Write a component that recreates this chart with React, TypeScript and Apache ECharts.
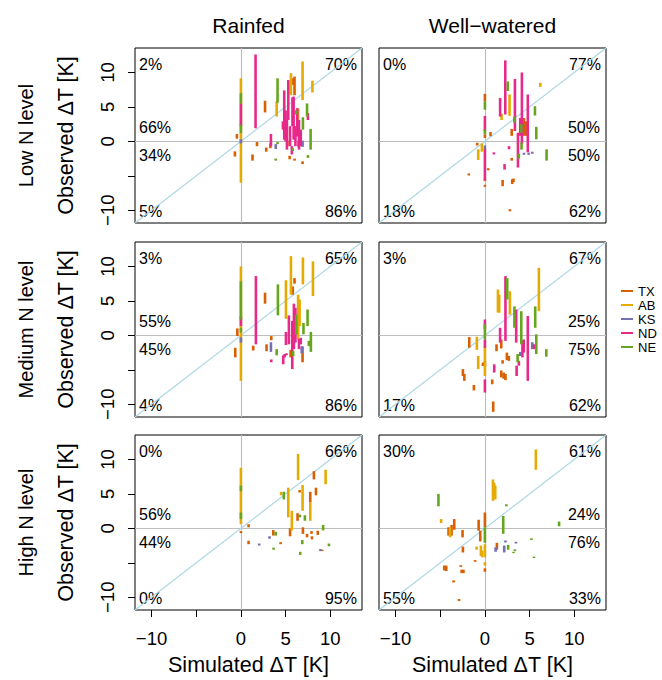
import React, { useEffect, useRef } from 'react';
import * as echarts from 'echarts';

// ---------- data ----------
const states = ['TX', 'AB', 'KS', 'ND', 'NE'];
const stateColors = ['#D95F02', '#E6AB02', '#7570B3', '#E7298A', '#66A61E'];
const tickValues = [-10, -5, 0, 5, 10];
const tickLabelValues = [-10, 0, 5, 10];
const columnTitles = ['Rainfed', 'Well\u2212watered'];
const rowTitles = ['Low N level', 'Medium N level', 'High N level'];
const xTitle = 'Simulated \u0394T [K]';
const yTitle = 'Observed \u0394T [K]';

// each segment: [simulated, observed min, observed max]
const lowRainTX = [[-0.45, 0.4, 1.06], [-0.67, -2.2, -1.45], [2.7, 4.2, 5.9], [1.8, -0.7, -0.1], [1.3, -2.8, -1.9], [2.84, -1.5, -0.9], [3.3, -1.0, -0.3], [5.8, 8.2, 9.15], [6.0, 6.7, 9.4], [6.45, -0.8, 0.1], [5.45, -2.6, -2.1], [6.0, -2.8, -2.5], [6.9, -3.3, -2.9], [5.2, -0.7, 0.1]];
const lowRainAB = [[0, -6.0, 9.15], [4.0, 3.6, 5.8], [5.6, 6.7, 9.9], [6.9, 6.0, 11.6], [8.0, 7.1, 8.8], [6.4, 2.4, 4.8]];
const lowRainKS = [[0, -0.3, 0.3], [3.9, -1.1, -0.4], [6.9, -0.8, 0.1]];
const lowRainND = [[0, 2.2, 5.5], [1.64, 1.9, 12.6], [3.36, -0.7, 1.06], [4.85, 0.25, 7.4], [5.0, 0.0, 4.5], [5.15, -1.2, 3.2], [5.3, 3.1, 8.9], [5.5, -0.7, 2.2], [5.77, 2.2, 6.4], [5.9, 0.25, 6.5], [6.1, -0.7, 2.2], [6.3, 0.7, 4.8], [6.5, -1.2, 3.1], [6.7, -0.7, 1.7], [4.7, 1.7, 2.9], [5.7, -1.9, -0.7], [7.5, 3.1, 4.1]];
const lowRainNE = [[0, 5.5, 7.0], [0, 1.2, 2.4], [4.1, 5.6, 9.15], [3.9, -2.8, -2.5], [4.1, -0.4, -0.1], [6.2, 3.9, 4.5], [7.4, 3.6, 5.5], [6.94, 1.7, 3.5], [7.8, -1.2, 1.8], [5.8, -1.4, -1.0], [7.5, -2.4, -2.0]];

const lowWetTX = [[0, 5.8, 6.9], [0, 0.5, 1.0], [-0.86, -0.6, -0.2], [-1.8, -4.95, -4.65], [0.37, -4.2, -3.9], [0.63, 0.75, 1.35], [0, -6.6, -6.3], [3.0, 0.8, 1.8], [3.0, -2.8, -2.4], [1.98, -6.5, -5.6], [3.06, -6.2, -5.5], [3.2, -5.9, -5.4], [2.8, -10.15, -9.85], [4.37, 0.8, 3.4], [4.6, 0.8, 2.9]];
const lowWetAB = [[0, -5.8, -5.5], [-0.34, -1.5, -0.3], [-0.75, -2.7, -1.15], [1.87, 3.1, 4.0], [2.76, 3.7, 6.8], [6.2, 7.9, 8.5]];
const lowWetKS = [[0, -1.25, -0.6], [4.37, -1.95, -1.65], [4.9, -1.95, -1.65], [5.3, -1.8, -1.5]];
const lowWetND = [[0, 1.5, 3.7], [0, -5.7, -1.15], [1.0, -1.9, -1.6], [1.7, 3.6, 6.3], [2.28, 3.9, 11.75], [2.2, -4.1, -3.3], [2.7, -1.15, -0.7], [3.36, 1.5, 9.05], [4.14, -0.4, 10.0], [3.7, -3.8, 1.25], [3.95, 0.8, 3.4], [4.8, -1.6, 6.8]];
const lowWetNE = [[0, 4.6, 5.8], [0, 1.0, 1.7], [2.57, 7.3, 8.7], [3.3, 2.7, 3.6], [4.07, 1.25, 2.5], [4.1, -1.2, -0.2], [3.8, -2.5, -1.8], [5.6, 3.75, 5.1], [5.75, 0.3, 2.1], [6.9, -2.8, -1.15]];

const medRainTX = [[-0.4, -0.1, 1.0], [-0.63, -3.2, -1.8], [1.38, -2.2, -1.5], [2.7, 4.6, 6.2], [2.87, -2.3, -1.3], [3.4, -0.7, -0.1], [5.8, 5.9, 7.1], [6.0, 7.5, 8.3], [5.56, -3.2, -2.1], [6.9, -3.9, -1.6]];
const medRainAB = [[0, -6.6, 10.0], [5.04, 2.4, 8.0], [5.6, 5.9, 11.5], [6.4, -0.6, 5.9], [6.57, 1.35, 5.2], [6.94, 7.4, 11.3], [8.06, 5.7, 10.75]];
const medRainKS = [[0, -1.05, -0.3], [3.36, -2.4, -1.0], [6.8, -2.6, -1.6]];
const medRainND = [[0, 1.35, 2.8], [1.68, -1.3, 8.6], [3.4, -3.9, -3.5], [5.04, -1.4, 0.5], [4.74, -4.2, -2.9], [5.37, -1.3, 2.9], [5.75, -4.9, 2.1], [5.93, -2.0, 4.6], [6.1, -1.05, 4.0], [6.5, -2.0, -0.5], [6.7, -1.3, -0.35], [4.9, -3.2, -2.7], [5.1, -2.9, -2.6]];
const medRainNE = [[0, 2.3, 7.85], [0, 0.4, 1.1], [4.14, 2.9, 7.4], [4.0, -2.9, -2.0], [6.2, 0.1, 3.0], [7.46, 1.35, 3.75], [7.0, 0.15, 1.8], [7.83, -2.4, 0.5], [7.6, -1.55, -0.8], [5.85, -3.0, -2.3]];

const medWetTX = [[0, -4.5, -3.7], [-1.75, -1.8, -0.25], [-0.22, -4.45, -3.95], [-2.46, -5.9, -4.9], [-2.3, -6.6, -5.6], [-1.23, -8.0, -7.2], [0.82, -7.1, -6.4], [0.93, -11.1, -9.6], [1.83, -1.9, -0.6], [1.3, -2.3, -1.3], [1.98, -4.1, -3.6], [1.83, -6.1, -5.1], [2.1, -6.3, -5.4], [2.3, -6.5, -5.6], [2.46, -3.6, -2.5], [2.68, -3.7, -3.0]];
const medWetAB = [[0, -5.9, -1.6], [-0.9, -2.1, -0.2], [-0.75, -4.9, -3.0], [1.46, 3.3, 6.65], [1.6, 3.3, 5.9], [2.8, 3.0, 6.4], [6.04, 3.5, 9.8]];
const medWetKS = [[3.96, -3.0, -2.4], [5.3, -2.0, -1.0]];
const medWetND = [[0, 0.9, 2.3], [0, -1.8, -0.6], [0, -8.3, -6.4], [1.7, -1.06, 1.1], [2.3, -0.8, 8.6], [1.04, -5.4, -4.2], [3.5, -1.06, 3.75], [4.2, -3.2, -0.8], [4.35, -2.5, -0.6], [3.55, -5.9, -4.4], [3.8, -4.4, -3.7], [4.8, -6.6, 2.8], [5.5, -2.0, -1.3]];
const medWetNE = [[0, -0.6, 1.6], [2.5, 5.2, 8.3], [3.3, 1.1, 4.2], [4.07, -1.3, 3.5], [3.66, -3.9, -2.7], [5.63, 1.1, 4.2], [5.75, -2.7, 0.15], [6.87, -3.1, -2.0]];

const highRainTX = [[0, -0.7, -0.4], [0.86, 0.15, 0.6], [0.86, -2.3, -1.8], [3.62, -1.05, -0.25], [4.44, -2.3, -2.0], [5.5, -1.15, 0.0], [6.34, 1.1, 2.2], [6.57, 5.2, 5.55], [7.76, 3.75, 5.3], [8.17, 7.1, 8.3], [8.4, 4.8, 5.9], [6.94, -0.8, 0.15], [7.4, -1.3, -0.8], [7.9, -0.8, -0.4], [7.95, -1.6, -1.15], [8.6, -0.95, -0.35], [9.1, -3.3, -3.1]];
const highRainAB = [[0, 0.6, 8.8], [4.5, 4.8, 5.3], [5.3, 1.6, 5.9], [5.7, -0.3, 2.55], [6.4, 7.0, 10.8], [6.9, 2.55, 6.3], [7.76, 1.1, 3.75], [9.48, 6.4, 8.5]];
const highRainKS = [[2.05, -2.5, -2.2], [3.2, -1.5, -1.15], [8.9, -3.3, -3.0]];
const highRainND: number[][] = [];
const highRainNE = [[0, 5.4, 6.2], [0, 1.35, 2.3], [3.9, -1.05, -0.5], [3.66, -3.1, -2.8], [4.8, 4.2, 5.3], [6.6, 1.6, 2.0], [7.16, 1.1, 1.9], [9.2, -0.3, 0.5], [6.87, -2.3, -1.7], [6.64, -3.85, -3.4], [9.85, -2.6, -2.2]];

const highWetTX = [[0, 0.15, 2.3], [0, -6.3, -5.8], [-3.43, -0.2, 1.35], [-3.73, -1.06, 0.5], [-4.07, -1.06, 0.15], [-2.5, -1.3, -0.25], [-2.46, -3.5, -2.65], [-4.55, -6.1, -5.4], [-4.33, -6.2, -5.4], [-2.7, -5.6, -5.35], [-2.6, -6.5, -6.0], [-2.4, -6.5, -6.0], [-3.5, -7.85, -7.55], [-2.9, -10.55, -10.25], [-1.1, -4.85, -4.6], [-0.7, -0.35, 1.25], [-0.52, -1.9, -0.35], [1.34, -3.1, -2.1]];
const highWetAB = [[0, -4.2, -2.3], [0, -5.4, -4.9], [-4.9, 0.77, 1.35], [-3.9, -1.3, 0.15], [-0.93, -3.1, -2.65], [-0.45, -4.0, -2.5], [-0.3, -4.2, -3.2], [0.9, 4.0, 7.1], [1.04, 4.2, 6.6], [1.16, 4.2, 6.2], [5.7, 8.5, 11.45]];
const highWetKS = [[1.2, -3.4, -2.75], [2.16, -3.5, -2.5], [2.3, -2.05, -1.75], [3.47, -2.2, -1.95]];
const highWetND: number[][] = [];
const highWetNE = [[0, -2.1, 0.15], [-5.2, 3.2, 5.0], [2.4, 3.2, 3.5], [2.05, -0.8, 1.8], [2.6, -3.1, -2.4], [3.2, -3.6, -3.4], [3.35, -3.3, -3.05], [5.2, -1.7, -1.45], [5.5, -4.3, -4.1], [8.3, 0.3, 1.0]];

// percentages: [top-left, top-right, above zero, below zero, bottom-left, bottom-right]
const pctLowRain = ['2%', '70%', '66%', '34%', '5%', '86%'];
const pctLowWet = ['0%', '77%', '50%', '50%', '18%', '62%'];
const pctMedRain = ['3%', '65%', '55%', '45%', '4%', '86%'];
const pctMedWet = ['3%', '67%', '25%', '75%', '17%', '62%'];
const pctHighRain = ['0%', '66%', '56%', '44%', '0%', '95%'];
const pctHighWet = ['30%', '61%', '24%', '76%', '55%', '33%'];

const panels = [
  { row: 0, col: 0, sets: [lowRainTX, lowRainAB, lowRainKS, lowRainND, lowRainNE], pct: pctLowRain },
  { row: 0, col: 1, sets: [lowWetTX, lowWetAB, lowWetKS, lowWetND, lowWetNE], pct: pctLowWet },
  { row: 1, col: 0, sets: [medRainTX, medRainAB, medRainKS, medRainND, medRainNE], pct: pctMedRain },
  { row: 1, col: 1, sets: [medWetTX, medWetAB, medWetKS, medWetND, medWetNE], pct: pctMedWet },
  { row: 2, col: 0, sets: [highRainTX, highRainAB, highRainKS, highRainND, highRainNE], pct: pctHighRain },
  { row: 2, col: 1, sets: [highWetTX, highWetAB, highWetKS, highWetND, highWetNE], pct: pctHighWet },
];

// ---------- layout ----------
const AX_MIN = -11.85;
const AX_MAX = 13.55;
const colLeft = [135, 379];
const rowTop = [48, 242, 435];
const PW = 227;
const PH = 175;
const FONT = '"Liberation Sans", Arial, Helvetica, sans-serif';

const fmt = (v: number) => (v < 0 ? '\u2212' + Math.abs(v) : String(v));

function buildOption() {
  const grid: any[] = [];
  const xAxis: any[] = [];
  const yAxis: any[] = [];
  const series: any[] = [];
  const graphic: any[] = [];

  panels.forEach((p, i) => {
    const left = colLeft[p.col];
    const top = rowTop[p.row];
    grid.push({
      left, top, width: PW, height: PH, show: true,
      borderColor: '#000', borderWidth: 1, backgroundColor: 'transparent',
      containLabel: false, outerBoundsMode: 'none',
    });
    const showX = p.row === 2;
    const showY = p.col === 0;
    xAxis.push({
      type: 'value', gridIndex: i, min: AX_MIN, max: AX_MAX,
      axisLine: { show: false, onZero: false },
      splitLine: { show: false },
      axisTick: { show: showX, length: 7, lineStyle: { color: '#000', width: 1 }, customValues: tickValues },
      axisLabel: {
        show: showX, customValues: tickLabelValues, formatter: fmt,
        fontSize: 18.5, color: '#000', fontFamily: FONT, margin: 19,
      },
    });
    yAxis.push({
      type: 'value', gridIndex: i, min: AX_MIN, max: AX_MAX,
      axisLine: { show: false, onZero: false },
      splitLine: { show: false },
      axisTick: { show: showY, length: 7, lineStyle: { color: '#000', width: 1 }, customValues: tickValues },
      axisLabel: {
        show: showY, customValues: tickLabelValues, formatter: fmt, rotate: 90,
        fontSize: 18.5, color: '#000', fontFamily: FONT, margin: 18,
      },
    });

    series.push({
      type: 'line', name: 'ref' + i, xAxisIndex: i, yAxisIndex: i,
      data: [[AX_MIN, AX_MIN], [AX_MAX, AX_MAX]],
      symbol: 'none', silent: true, z: 1,
      lineStyle: { color: '#ADD8E6', width: 1.2 },
      markLine: {
        silent: true, symbol: ['none', 'none'], label: { show: false },
        lineStyle: { color: '#BEBEBE', width: 1.2, type: 'solid' },
        data: [{ xAxis: 0 }, { yAxis: 0 }],
        z: 1,
      },
    });

    p.sets.forEach((set, k) => {
      series.push({
        type: 'custom', name: states[k], xAxisIndex: i, yAxisIndex: i,
        data: set, encode: { x: 0, y: [1, 2] }, z: 2 + k,
        itemStyle: { color: stateColors[k] },
        renderItem: (params: any, api: any) => {
          const a = api.coord([api.value(0), api.value(1)]);
          const b = api.coord([api.value(0), api.value(2)]);
          return {
            type: 'line',
            shape: { x1: a[0], y1: a[1], x2: b[0], y2: b[1] },
            style: { stroke: stateColors[k], lineWidth: 2.6, lineCap: 'butt' },
          };
        },
      });
    });

    // percentage texts
    const right = left + PW;
    const bottom = top + PH;
    const zeroY = top + PH * (AX_MAX / (AX_MAX - AX_MIN));
    const txt = (text: string, x: number, y: number, align: string) => ({
      type: 'text', x, y, silent: true,
      style: { text, fill: '#000', font: `16px ${FONT}`, align, verticalAlign: 'middle', textAlign: align, textVerticalAlign: 'middle' },
    });
    graphic.push(txt(p.pct[0], left + 4, top + 16, 'left'));
    graphic.push(txt(p.pct[1], right - 5, top + 16, 'right'));
    if (p.col === 0) {
      graphic.push(txt(p.pct[2], left + 4, zeroY - 13.5, 'left'));
      graphic.push(txt(p.pct[3], left + 4, zeroY + 14.5, 'left'));
    } else {
      graphic.push(txt(p.pct[2], right - 6, zeroY - 13.5, 'right'));
      graphic.push(txt(p.pct[3], right - 6, zeroY + 14.5, 'right'));
    }
    graphic.push(txt(p.pct[4], left + 4, bottom - 12, 'left'));
    graphic.push(txt(p.pct[5], right - 5, bottom - 12, 'right'));
  });

  const bigText = (text: string, x: number, y: number, rot: number, size: number) => ({
    type: 'text', x, y, rotation: rot, silent: true,
    style: { text, fill: '#000', font: `${size}px ${FONT}`, align: 'center', verticalAlign: 'middle', textAlign: 'center', textVerticalAlign: 'middle' },
  });
  columnTitles.forEach((t, c) => graphic.push(bigText(t, colLeft[c] + PW / 2, 25, 0, 21)));
  colLeft.forEach((l) => graphic.push(bigText(xTitle, l + PW / 2, 665, 0, 21.5)));
  rowTitles.forEach((t, r) => {
    graphic.push(bigText(t, 26, rowTop[r] + PH / 2, Math.PI / 2, 20));
    graphic.push(bigText(yTitle, 66, rowTop[r] + PH / 2, Math.PI / 2, 21.5));
  });

  return {
    animation: false,
    backgroundColor: '#fff',
    color: stateColors,
    grid, xAxis, yAxis, series, graphic,
    legend: {
      data: states.map((name) => ({ name, icon: 'rect' })),
      orient: 'vertical', left: 621, top: 284, padding: 0,
      itemWidth: 12, itemHeight: 2, itemGap: 0, selectedMode: false,
      textStyle: { fontSize: 13, lineHeight: 14, color: '#000', fontFamily: FONT },
    },
  };
}

export default function App() {
  const ref = useRef<HTMLDivElement>(null);
  useEffect(() => {
    const chart = echarts.init(ref.current as HTMLDivElement, null, { renderer: 'svg' });
    chart.setOption(buildOption() as any);
    return () => chart.dispose();
  }, []);
  return (
    <div
      ref={ref}
      style={{ position: 'absolute', left: 0, top: 0, width: 662, height: 680, background: '#fff' }}
    />
  );
}
